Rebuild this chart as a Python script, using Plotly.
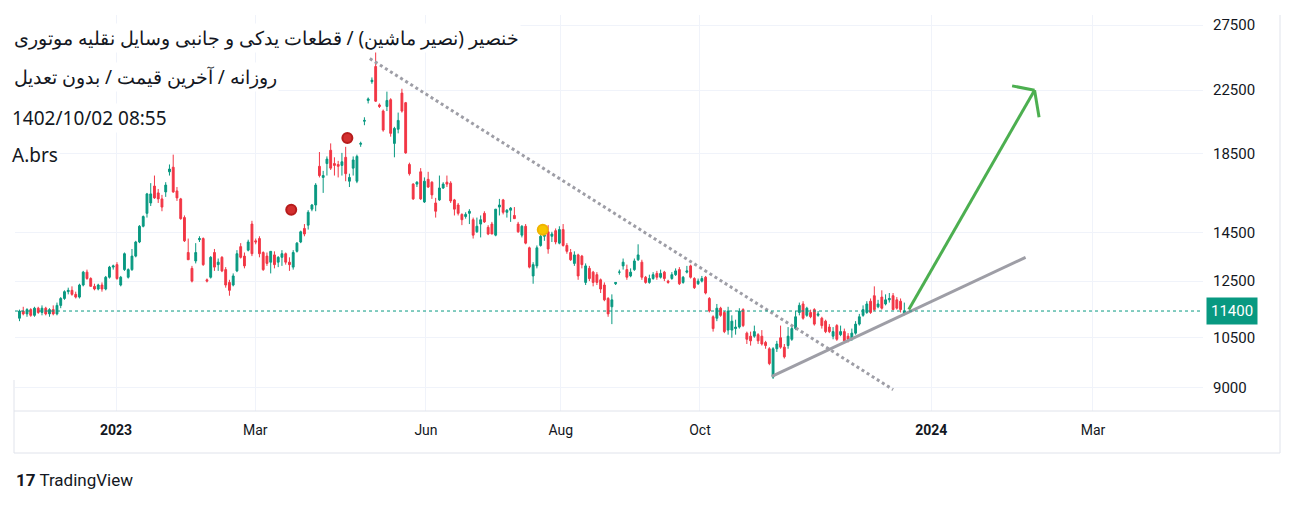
import pandas as pd
import plotly.graph_objects as go
import math

# Daily candles: open, high, low, close (Rial)
ohlc_rows = [
    (11150,11450,11050,11400),(11400,11550,11250,11300),(11300,11500,11200,11450),(11450,11500,11200,11250),
    (11250,11550,11200,11500),(11500,11550,11300,11350),(11350,11600,11250,11500),(11500,11550,11250,11300),
    (11300,11500,11200,11450),(11450,11600,11250,11300),(11300,11700,11250,11600),(11600,11900,11500,11850),
    (11850,12150,11800,12100),(12100,12250,12000,12150),(12150,12300,11950,12000),(12000,12100,11850,11900),
    (11900,12400,11850,12350),(12350,12900,12300,12850),(12850,12950,12550,12600),(12600,12650,12300,12300),
    (12300,12400,12150,12200),(12200,12400,12150,12350),(12350,12450,12100,12200),(12200,12700,12150,12650),
    (12650,13100,12600,13050),(13050,13150,12950,13100),(13150,13250,12550,12600),(12350,12700,12300,12650),
    (12950,13650,12900,13600),(12650,13000,12600,12950),(12950,13800,12900,13500),(13500,14150,13450,14100),
    (14100,14850,14050,14800),(14800,15300,14750,15250),(15400,16400,15200,16350),(15900,16900,15750,16350),
    (16750,17300,16100,16150),(16400,16600,15900,16100),(16100,16300,15500,15700),(16450,16950,16200,16800),
    (17500,17900,17300,17650),(17750,18450,16400,16450),(16500,16700,16000,16150),(16100,16150,15100,15150),
    (15200,15300,14100,14150),(13650,14250,13350,13350),(13000,13100,12450,12500),(13300,14050,13200,13650),
    (14200,14350,14100,14250),(14250,14300,13100,13150),(12550,12600,12450,12500),(12650,13500,12600,13450),
    (13650,13800,12900,13050),(13150,13400,12900,13250),(13450,13500,12850,12900),(12950,13050,12250,12350),
    (12450,12550,11950,12150),(12350,12800,12300,12700),(12900,13750,12850,13600),(13900,14050,13400,13450),
    (13500,13650,13000,13100),(13750,14200,13700,14100),(14900,15050,13500,13600),(14150,14250,14000,14100),
    (14250,14350,13450,13600),(13650,13700,12900,12950),(13500,13650,13100,13200),(13250,13700,12800,13700),
    (13550,13700,13000,13150),(13250,13500,13050,13450),(13450,13750,13100,13600),(13600,13650,13150,13250),
    (13250,13450,12900,13150),(13050,13750,12950,13650),(13700,14100,13650,14050),(14100,14600,14050,14550),
    (14700,14900,14350,14450),(14850,15550,14650,15450),(15600,15850,15500,15800),(15800,16900,15500,16800),
    (17800,18600,17200,17300),(17200,17550,16400,17300),(17950,18350,17300,18200),(18700,19100,17600,17700),
    (17950,18300,17300,17850),(17900,18100,17200,17800),(17850,18550,17300,18050),(18300,18900,17000,17400),
    (17000,17400,16700,17200),(17700,18350,17300,18150),(17000,18450,16900,18350),(19050,19200,18900,19100),
    (20450,20700,20200,20500),(21800,22000,21600,21900),(23100,23400,22950,23200),(24200,25500,21700,21750),
    (21500,21600,21300,21400),(21100,21200,19800,19900),(21400,22400,21100,21800),(21850,21950,19500,19700),
    (19100,20100,18300,20000),(19950,21000,19700,20500),(22300,22600,21000,21100),(21650,21700,18500,18550),
    (17900,18000,17300,17400),(16850,16900,16050,16100),(16850,17000,16700,16950),(17500,17700,16050,16100),
    (15950,17200,15900,17000),(17100,17500,16650,16700),(16950,17000,16100,16300),(15900,16150,15200,15500),
    (16050,17300,16000,16650),(16650,16950,16600,16850),(16950,17300,16700,16850),(16900,17000,15900,16000),
    (16050,16100,15300,15600),(15800,15900,15300,15400),(15350,15400,14850,15100),(15250,15450,15150,15350),
    (15400,15600,14900,15500),(15100,15200,14250,14400),(14550,15200,14500,14800),(14900,15300,14300,15100),
    (15400,15500,14950,15000),(14750,14850,14400,14450),(14900,15000,14450,14450),(14400,15600,14350,15600),
    (15700,16100,15300,15800),(16050,16100,15350,15450),(15450,15600,15200,15550),(15550,15700,15000,15650),
    (15300,15700,15150,15150),(14900,15000,14500,14550),(14400,14850,14300,14800),(14800,14900,14000,14050),
    (13850,13900,13000,13050),(12700,13250,12400,13150),(13100,13950,13000,13850),(13950,14450,13900,14350),
    (14350,14700,14150,14400),(14550,14850,13600,13800),(14350,14550,14100,14450),(14600,14700,14000,14100),
    (14050,14800,14000,14650),(14650,14900,13900,13950),(13950,14050,13600,13700),(13650,13800,13300,13350),
    (13200,13700,13100,13550),(13550,13600,12550,12700),(13500,13550,13000,13150),(12450,13200,12350,13100),
    (13000,13100,12500,12600),(12850,12900,12300,12450),(12750,12850,12350,12450),(12550,12600,12050,12200),
    (12350,12450,11750,11800),(11850,11900,11200,11300),(11550,12000,10950,11800),(12400,12450,12350,12450),
    (12850,12950,12750,12850),(13100,13400,12950,13250),(12950,13150,12550,12650),(12700,13000,12650,12850),
    (12950,13400,12900,13300),(13350,14000,13300,13550),(13250,13350,12550,12650),(12650,12700,12400,12450),
    (12450,12750,12400,12600),(12600,12850,12550,12750),(12800,12900,12550,12650),(12650,12950,12600,12800),
    (12850,12900,12500,12600),(12500,12550,12400,12450),(12600,12850,12550,12750),(12750,13000,12700,12900),
    (12950,13050,12350,12400),(12450,12700,12400,12650),(12850,13100,12800,12900),(13100,13150,12600,12650),
    (12600,12650,12200,12250),(12400,12600,12350,12500),(12500,12700,12450,12600),(12650,12700,12000,12050),
    (11850,11900,11350,11400),(11200,11250,10700,10800),(11150,11650,11050,11500),(11500,11550,11200,11250),
    (11350,11400,10650,10700),(10750,11550,10600,11400),(10750,11250,10500,11050),(10800,11100,10600,10850),
    (10850,11500,10800,11400),(11450,11500,10850,10900),(10650,10700,10300,10450),(10550,10700,10250,10400),
    (10550,10900,10500,10700),(10600,10650,10300,10400),(10550,10750,10250,10300),(10350,10400,10150,10250),
    (10150,10200,9650,9700),(9300,10200,9250,10150),(10150,10400,10050,10300),(10500,10900,10150,10200),
    (10200,10300,9850,9900),(10250,10850,10150,10550),(10450,10900,10400,10800),(10800,11400,10750,11200),
    (11350,11700,11250,11600),(11650,11750,11100,11150),(11250,11550,11200,11500),(11350,11450,11150,11200),
    (11450,11500,10900,10950),(11250,11400,11200,11300),(11150,11200,10800,10900),(11050,11100,10650,10700),
    (10850,10950,10650,10700),(10550,10850,10450,10700),(10900,10950,10400,10450),(10600,10900,10550,10700),
    (10700,10800,10350,10400),(10550,10650,10350,10450),(10450,10800,10400,10650),(10650,11050,10600,10950),
    (10950,11300,10900,11200),(11250,11600,11200,11450),(11350,11750,11300,11650),(11750,11850,11300,11350),
    (11950,12300,11400,11450),(11550,11800,11500,11650),(11900,12150,11450,11500),(11650,12000,11600,11800),
    (11800,12050,11700,11850),(11950,12050,11450,11450),(11800,11900,11450,11500),(11750,11850,11350,11450),
    (11300,11700,11250,11400),
]
first_day = "2022-11-19"
last_day = "2023-12-18"
last_price = 11400

y_ticks = [9000, 10500, 12500, 14500, 18500, 22500, 27500]
# TradingView's bar-index axis places month labels where the bars fall
x_tick_dates = ["2023-01-01", "2023-03-04", "2023-05-19", "2023-07-18", "2023-09-18", "2023-12-30", "2024-03-11"]
x_tick_text = ["<b>2023</b>", "Mar", "Jun", "Aug", "Oct", "<b>2024</b>", "Mar"]

# drawings (date, price)
trend_down = [("2023-04-24", 24800), ("2023-12-13", 8950)]
trend_up = [("2023-10-20", 9320), ("2024-02-10", 13450)]
arrow = [("2023-12-20", 11450), ("2024-02-14", 22500)]
red_dots = [("2023-03-20", 15570), ("2023-04-14", 19420)]
yellow_dots = [("2023-07-10", 14640)]

title_lines = ["خنصیر (نصیر ماشین) / قطعات یدکی و جانبی وسایل نقلیه موتوری",
               "روزانه / آخرین قیمت / بدون تعدیل", "1402/10/02 08:55", "A.brs"]

opens, highs, lows, closes = map(list, zip(*ohlc_rows))
dates = pd.date_range(first_day, last_day, periods=len(ohlc_rows))

OFF = 8  # page body margin
W, H = 1296 - OFF, 506 - OFF
L, R, T, B = 15 - OFF, 1203 - OFF, 15 - OFF, 411 - OFF
PW, PH = R - L, B - T


def px(x):
    return (x - OFF - L) / PW


def py(y):
    return 1 - (y - OFF - T) / PH


GREEN, RED = "#089981", "#F23645"
fig = go.Figure()
fig.add_trace(go.Candlestick(
    x=dates, open=opens, high=highs, low=lows, close=closes,
    increasing=dict(line=dict(color=GREEN, width=1), fillcolor=GREEN),
    decreasing=dict(line=dict(color=RED, width=1), fillcolor=RED),
    whiskerwidth=0, showlegend=False, hoverinfo="skip"))

fig.add_trace(go.Scatter(x=[d for d, _ in trend_down], y=[p for _, p in trend_down], mode="lines",
                         line=dict(color="#9e9ea6", width=3, dash="dot"), showlegend=False))
fig.add_trace(go.Scatter(x=[d for d, _ in trend_up], y=[p for _, p in trend_up], mode="lines",
                         line=dict(color="#9e9ea6", width=3), showlegend=False))
fig.add_trace(go.Scatter(x=[d for d, _ in arrow], y=[p for _, p in arrow], mode="lines",
                         line=dict(color="#4caf50", width=3), showlegend=False))
fig.add_trace(go.Scatter(x=[d for d, _ in red_dots], y=[p for _, p in red_dots], mode="markers",
                         marker=dict(color="#d32f2f", size=10, line=dict(color="#b71c1c", width=2)), showlegend=False))
fig.add_trace(go.Scatter(x=[d for d, _ in yellow_dots], y=[p for _, p in yellow_dots], mode="markers",
                         marker=dict(color="#f7c600", size=10, line=dict(color="#f0b400", width=2)), showlegend=False))

# arrowhead strokes
fig.add_shape(type="line", xref="x", yref="y", x0="2024-02-04", y0=22800, x1=arrow[1][0], y1=arrow[1][1],
              line=dict(color="#4caf50", width=3))
fig.add_shape(type="line", xref="x", yref="y", x0="2024-02-16", y0=20700, x1=arrow[1][0], y1=arrow[1][1],
              line=dict(color="#4caf50", width=3))

# last price line and label
fig.add_shape(type="line", xref="paper", yref="y", x0=0, x1=1, y0=last_price, y1=last_price,
              line=dict(color=GREEN, width=1, dash="dot"))
fig.add_annotation(xref="paper", yref="y", x=px(1206), y=math.log10(last_price), text=f"{last_price}",
                   showarrow=False, xanchor="left", bgcolor=GREEN, font=dict(color="white", size=15),
                   borderpad=4)

# frame lines
frame = dict(color="#e0e3eb", width=1)
fig.add_shape(type="line", xref="paper", yref="paper", x0=px(14), x1=px(1280), y0=py(411), y1=py(411), line=frame)
fig.add_shape(type="line", xref="paper", yref="paper", x0=px(14), x1=px(1280), y0=py(453), y1=py(453), line=frame)
fig.add_shape(type="line", xref="paper", yref="paper", x0=px(1280), x1=px(1280), y0=py(453), y1=py(15), line=frame)
fig.add_shape(type="line", xref="paper", yref="paper", x0=px(14), x1=px(14), y0=py(453), y1=py(380), line=frame)

# title block
positions = [(12, 38), (12, 77), (10, 118), (10, 155)]
for (x0, y0), t in zip(positions, title_lines):
    fig.add_annotation(xref="paper", yref="paper", x=px(x0), y=py(y0), text=t,
                       showarrow=False, xanchor="left", yanchor="middle", bgcolor="white",
                       font=dict(family="Noto Sans", size=19, color="#131722"))

fig.add_annotation(xref="paper", yref="paper", x=px(14), y=py(480), text="<b>17</b> TradingView",
                   showarrow=False, xanchor="left", yanchor="middle",
                   font=dict(family="Roboto", size=17, color="#131722"))

fig.update_layout(
    width=W, height=H, margin=dict(l=L, r=W - R, t=T, b=H - B, autoexpand=False),
    paper_bgcolor="white", plot_bgcolor="white",
    font=dict(family="Roboto", color="#131722", size=14),
    xaxis=dict(type="date", range=["2022-11-17", "2024-04-29"], rangeslider=dict(visible=False),
               tickvals=x_tick_dates, ticktext=x_tick_text, showgrid=True, gridcolor="#f0f3fa",
               showline=False, ticks="outside", ticklen=6, tickcolor="rgba(0,0,0,0)",
               tickfont=dict(size=14), automargin=False),
    yaxis=dict(type="log", side="right", range=[math.log10(8380), math.log10(28360)],
               tickvals=y_ticks, ticktext=[str(v) for v in y_ticks], showgrid=True, gridcolor="#f0f3fa",
               showline=False, ticks="outside", ticklen=6, tickcolor="rgba(0,0,0,0)",
               tickfont=dict(size=15), zeroline=False, automargin=False),
)
fig.write_html("out.html")
